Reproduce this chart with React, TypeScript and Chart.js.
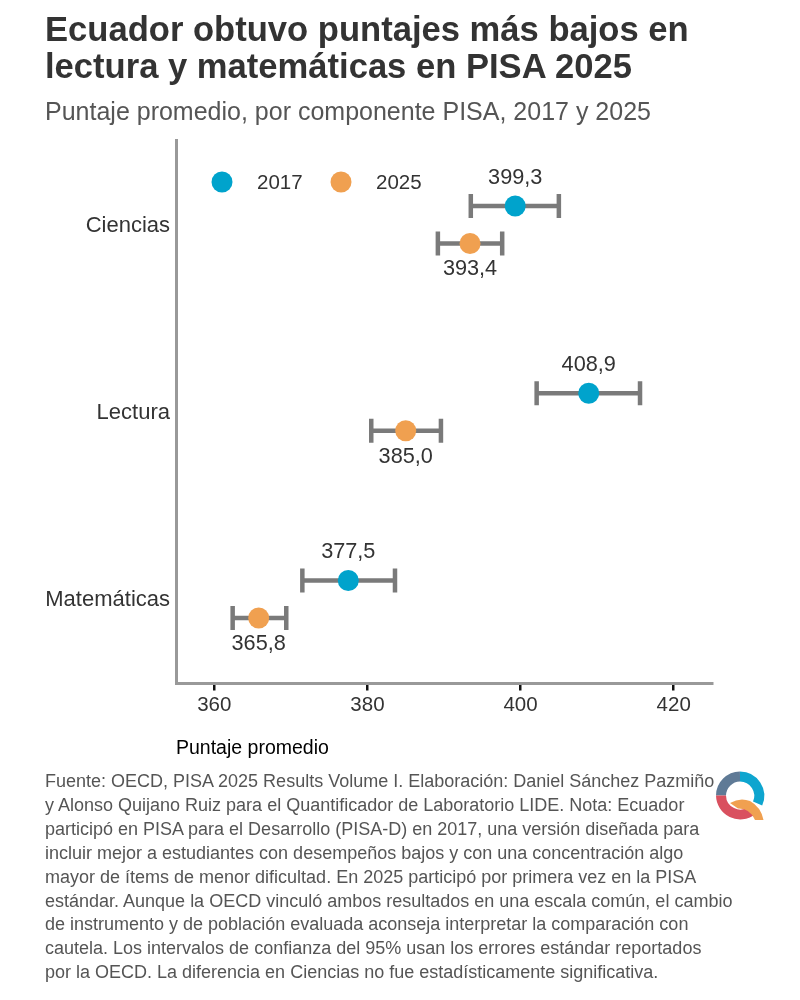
import { useEffect, useRef } from 'react';
import Chart from 'chart.js/auto';

const categories = ['Ciencias', 'Lectura', 'Matemáticas'];
const years = ['2017', '2025'];
const values2017 = [399.3, 408.9, 377.5];
const low2017 = [393.5, 402.1, 371.5];
const high2017 = [405.0, 415.6, 383.6];
const values2025 = [393.4, 385.0, 365.8];
const low2025 = [389.2, 380.5, 362.4];
const high2025 = [397.6, 389.6, 369.4];
const xTicks = [360, 380, 400, 420];

const BLUE = '#00a3cc';
const ORANGE = '#f0a050';
const GREY = '#7a7a7a';
const TEXT = '#333333';
const FONT = '"Liberation Sans", Arial, sans-serif';

const titleLines = ['Ecuador obtuvo puntajes más bajos en', 'lectura y matemáticas en PISA 2025'];
const subtitle = 'Puntaje promedio, por componente PISA, 2017 y 2025';
const captionLines = [
  'Fuente: OECD, PISA 2025 Results Volume I. Elaboración: Daniel Sánchez Pazmiño',
  'y Alonso Quijano Ruiz para el Quantificador de Laboratorio LIDE. Nota: Ecuador',
  'participó en PISA para el Desarrollo (PISA-D) en 2017, una versión diseñada para',
  'incluir mejor a estudiantes con desempeños bajos y con una concentración algo',
  'mayor de ítems de menor dificultad. En 2025 participó por primera vez en la PISA',
  'estándar. Aunque la OECD vinculó ambos resultados en una escala común, el cambio',
  'de instrumento y de población evaluada aconseja interpretar la comparación con',
  'cautela. Los intervalos de confianza del 95% usan los errores estándar reportados',
  'por la OECD. La diferencia en Ciencias no fue estadísticamente significativa.',
];

const DODGE = 0.1;

function interval(low: number, high: number, y: number) {
  return {
    type: 'scatter' as const,
    data: [{ x: low, y }, { x: high, y }],
    showLine: true,
    borderColor: GREY,
    borderWidth: 4.5,
    pointStyle: 'line' as const,
    pointRotation: 90,
    pointRadius: 12,
    pointBorderColor: GREY,
    pointBorderWidth: 4.5,
    pointHoverRadius: 12,
  };
}

// value labels above / below the dots, and the small legend inside the plot
const labelsPlugin = {
  id: 'labels',
  afterDraw(chart: any) {
    const { ctx, scales } = chart;
    ctx.save();
    ctx.font = `21.7px ${FONT}`;
    ctx.fillStyle = TEXT;
    ctx.textAlign = 'center';
    ctx.textBaseline = 'middle';
    categories.forEach((_, i) => {
      const y = i + 1;
      ctx.fillText(values2017[i].toFixed(1).replace('.', ','), scales.x.getPixelForValue(values2017[i]), scales.y.getPixelForValue(y - DODGE) - 28);
      ctx.fillText(values2025[i].toFixed(1).replace('.', ','), scales.x.getPixelForValue(values2025[i]), scales.y.getPixelForValue(y + DODGE) + 26);
    });
    const legendX = [222, 341];
    ctx.font = `20.5px ${FONT}`;
    [BLUE, ORANGE].forEach((color, i) => {
      ctx.beginPath();
      ctx.arc(legendX[i], 182, 10.5, 0, Math.PI * 2);
      ctx.fillStyle = color;
      ctx.fill();
      ctx.fillStyle = TEXT;
      ctx.textAlign = 'left';
      ctx.fillText(years[i], legendX[i] + 35, 183);
    });
    ctx.restore();
  },
};

export default function App() {
  const canvasRef = useRef<HTMLCanvasElement | null>(null);

  useEffect(() => {
    const ctx = canvasRef.current?.getContext('2d');
    if (!ctx) return;
    const chart = new Chart(ctx, {
      type: 'scatter',
      data: {
        datasets: [
          {
            label: years[0],
            data: values2017.map((v, i) => ({ x: v, y: i + 1 - DODGE })),
            backgroundColor: BLUE,
            borderWidth: 0,
            pointRadius: 10.5,
            pointHoverRadius: 10.5,
          },
          {
            label: years[1],
            data: values2025.map((v, i) => ({ x: v, y: i + 1 + DODGE })),
            backgroundColor: ORANGE,
            borderWidth: 0,
            pointRadius: 10.5,
            pointHoverRadius: 10.5,
          },
          ...categories.map((_, i) => interval(low2017[i], high2017[i], i + 1 - DODGE)),
          ...categories.map((_, i) => interval(low2025[i], high2025[i], i + 1 + DODGE)),
        ] as any,
      },
      options: {
        animation: false,
        responsive: false,
        events: [],
        layout: { padding: { top: 140.5, right: 88, bottom: 216.5, left: 0 } },
        plugins: {
          legend: { display: false },
          tooltip: { enabled: false },
        },
        scales: {
          x: {
            type: 'linear',
            min: 355,
            max: 425,
            afterBuildTicks: (scale: any) => {
              scale.ticks = xTicks.map((value) => ({ value }));
            },
            afterFit: (scale: any) => {
              scale.height = 100;
            },
            grid: { drawOnChartArea: false, drawTicks: true, tickLength: 7, tickColor: '#111111', tickWidth: 2.5, lineWidth: 2.5 },
            border: { color: '#999999', width: 3 },
            ticks: { color: TEXT, font: { family: FONT, size: 20.5 }, padding: 3, maxRotation: 0 },
            title: {
              display: true,
              text: 'Puntaje promedio',
              align: 'start',
              color: '#000000',
              font: { family: FONT, size: 19.5 },
              padding: { top: 0, bottom: 23 },
            },
          },
          y: {
            type: 'linear',
            reverse: true,
            min: 0.55,
            max: 3.45,
            afterBuildTicks: (scale: any) => {
              scale.ticks = categories.map((_, i) => ({ value: i + 1 }));
            },
            afterFit: (scale: any) => {
              scale.width = 176;
            },
            grid: { drawOnChartArea: false, drawTicks: false },
            border: { color: '#999999', width: 3 },
            ticks: {
              color: TEXT,
              font: { family: FONT, size: 22 },
              padding: 6,
              labelOffset: 1,
              callback: (value: any) => categories[Number(value) - 1],
            },
          },
        },
      } as any,
      plugins: [labelsPlugin],
    });
    return () => chart.destroy();
  }, []);

  return (
    <div style={{ position: 'absolute', left: 0, top: 0, width: 800, height: 1000, background: '#fff', fontFamily: FONT, overflow: 'hidden' }}>
      <canvas ref={canvasRef} width={800} height={1000} style={{ position: 'absolute', left: 0, top: 0, display: 'block' }} />
      <div style={{ position: 'absolute', left: 45, top: 11, fontSize: 34.6, fontWeight: 'bold', lineHeight: '37px', color: '#333', whiteSpace: 'pre' }}>
        {titleLines.join('\n')}
      </div>
      <div style={{ position: 'absolute', left: 45, top: 96, fontSize: 25, lineHeight: '30px', color: '#555', whiteSpace: 'pre' }}>{subtitle}</div>
      <div style={{ position: 'absolute', left: 45, top: 770, fontSize: 18, lineHeight: '23.9px', color: '#555', whiteSpace: 'pre' }}>
        {captionLines.join('\n')}
      </div>
      <svg width={60} height={60} viewBox="710 765 60 60" style={{ position: 'absolute', left: 710, top: 765 }} fill="none" strokeWidth={10}>
        <path d="M721 795.5 A19.3 19.3 0 0 1 740 776.5" stroke="#5f7a96" />
        <path d="M740 776.5 A19.3 19.3 0 0 1 757.6 803.5" stroke="#0ea5cf" />
        <path d="M721 795.5 A19.3 19.3 0 0 0 752 810.5" stroke="#d9505f" />
        <path d="M730 803 Q740 797 750 801 Q761 807 763.5 820 L755 820 Q750 808 738 808.5 Z" fill="#f0a050" stroke="none" />
      </svg>
    </div>
  );
}
